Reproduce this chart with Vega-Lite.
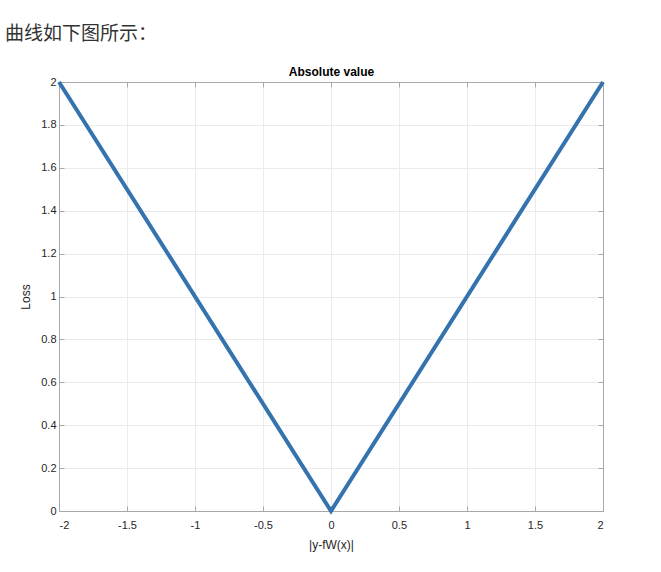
{
  "$schema": "https://vega.github.io/schema/vega-lite/v6.json",
  "autosize": {"type": "none"},
  "padding": {"left": 59, "top": 82, "right": 58, "bottom": 61},
  "width": 544,
  "height": 429,
  "background": "white",
  "title": {
    "text": "曲线如下图所示：",
    "anchor": "start",
    "frame": "group",
    "dx": -54,
    "offset": 22,
    "font": "Noto Sans CJK SC",
    "fontSize": 19,
    "fontWeight": "normal",
    "color": "#333333"
  },
  "data": {
    "values": [
      {"error": -2, "loss": 2},
      {"error": 0, "loss": 0},
      {"error": 2, "loss": 2}
    ]
  },
  "layer": [
    {
      "mark": {"type": "line", "color": "#3473ae", "strokeWidth": 4, "clip": false},
      "encoding": {
        "x": {
          "field": "error",
          "type": "quantitative",
          "scale": {"domain": [-2, 2], "nice": false, "zero": false},
          "axis": {
            "orient": "bottom",
            "title": "|y-fW(x)|",
            "values": [-2, -1.5, -1, -0.5, 0, 0.5, 1, 1.5, 2],
            "labelExpr": "datum.value + ''",
            "labelPadding": 13,
            "titlePadding": 9
          }
        },
        "y": {
          "field": "loss",
          "type": "quantitative",
          "scale": {"domain": [0, 2], "nice": false},
          "axis": {
            "orient": "left",
            "title": "Loss",
            "values": [0, 0.2, 0.4, 0.6, 0.8, 1, 1.2, 1.4, 1.6, 1.8, 2],
            "labelExpr": "datum.value + ''",
            "titlePadding": 8
          }
        }
      }
    },
    {
      "mark": {"type": "line", "opacity": 0},
      "encoding": {
        "x": {
          "field": "error",
          "type": "quantitative",
          "axis": {
            "orient": "top",
            "title": "Absolute value",
            "titleFontWeight": "bold",
            "titleFontSize": 12,
            "titleColor": "#000000",
            "titlePadding": 3,
            "labels": false,
            "grid": false,
            "values": [-2, -1.5, -1, -0.5, 0, 0.5, 1, 1.5, 2]
          }
        },
        "y": {
          "field": "loss",
          "type": "quantitative",
          "axis": {
            "orient": "right",
            "title": null,
            "labels": false,
            "grid": false,
            "values": [0, 0.2, 0.4, 0.6, 0.8, 1, 1.2, 1.4, 1.6, 1.8, 2]
          }
        }
      }
    }
  ],
  "resolve": {"axis": {"x": "independent", "y": "independent"}},
  "config": {
    "view": {"stroke": "#a8a8a8", "strokeWidth": 1},
    "axis": {
      "labelFont": "Liberation Sans",
      "titleFont": "Liberation Sans",
      "labelFontSize": 11,
      "titleFontSize": 12,
      "labelColor": "#262626",
      "titleColor": "#262626",
      "titleFontWeight": "normal",
      "domainColor": "#a8a8a8",
      "tickColor": "#a8a8a8",
      "tickSize": -5,
      "labelPadding": 8,
      "gridColor": "#ebebeb",
      "gridWidth": 1
    }
  }
}
